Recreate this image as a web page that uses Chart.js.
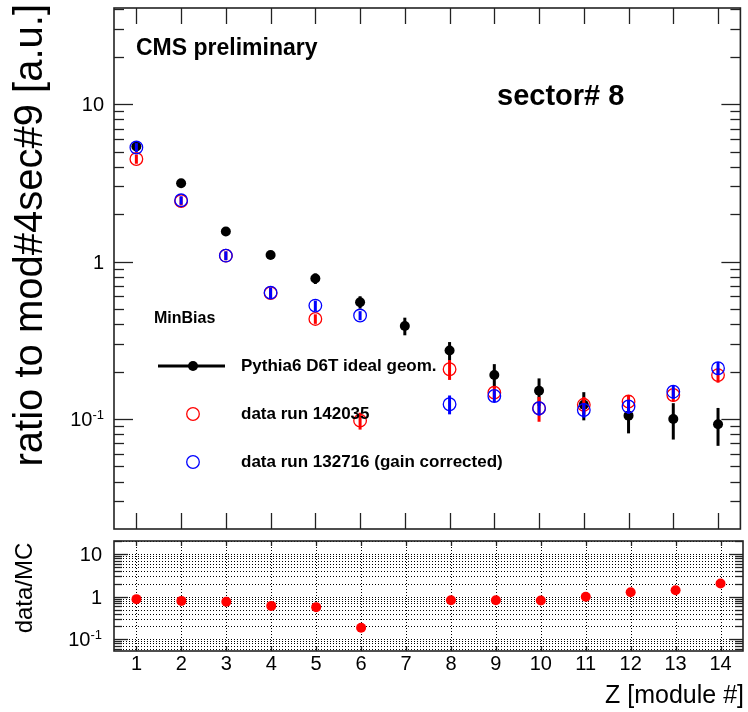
<!DOCTYPE html>
<html>
<head>
<meta charset="utf-8">
<title>sector# 8 — ratio to mod#4sec#9</title>
<script src="https://cdn.jsdelivr.net/npm/chart.js@4.4.1/dist/chart.umd.min.js"></script>
<style>
  html, body { margin: 0; padding: 0; background: #fff; }
  #wrap { position: relative; width: 748px; height: 712px; }
  #wrap canvas { position: absolute; left: 0; top: 0; }
</style>
</head>
<body>
<div id="wrap">
  <canvas id="ratioChart" width="748" height="712"></canvas>
  <canvas id="mainChart" width="748" height="712"></canvas>
</div>
<script>
/* ───── dados ───── */
const modules = [1, 2, 3, 4, 5, 6, 7, 8, 9, 10, 11, 12, 13, 14];
const xTickLabels = ['1', '2', '3', '4', '5', '6', '7', '8', '9', '10', '11', '12', '13', '14'];

const pythiaVals = [5.38, 3.14, 1.55, 1.10, 0.78, 0.552, 0.39, 0.272, 0.19, 0.151, 0.123, 0.105, 0.100, 0.0925];
const pythiaErr  = [0.25, 0.10, 0.06, 0.05, 0.06, 0.05, 0.05, 0.036, 0.033, 0.03, 0.025, 0.024, 0.026, 0.025];

const run142035Vals = [4.48, 2.42, 1.09, 0.63, 0.432, 0.0976, null, 0.207, 0.147, 0.117, 0.123, 0.129, 0.142, 0.19];
const run142035Err  = [0.30, 0.15, 0.07, 0.05, 0.03, 0.012, null, 0.03, 0.013, 0.021, 0.015, 0.011, 0.013, 0.02];

const run132716Vals = [5.30, 2.45, 1.09, 0.635, 0.525, 0.454, null, 0.124, 0.14, 0.117, 0.114, 0.12, 0.149, 0.21];
const run132716Err  = [0.35, 0.15, 0.07, 0.05, 0.04, 0.03, null, 0.017, 0.012, 0.012, 0.012, 0.012, 0.015, 0.02];

const ratioVals = [0.88, 0.80, 0.76, 0.61, 0.57, 0.187, null, 0.83, 0.83, 0.82, 1.0, 1.28, 1.43, 2.06];

const yTickValues = [0.1, 1, 10];
const yTickLabels = ['10^{-1}', '1', '10'];

const FONT = "'Liberation Sans', Arial, Helvetica, sans-serif";

/* ───── helpers ───── */
function toPoints(vals, errs) {
  const pts = [];
  modules.forEach((m, i) => {
    if (vals[i] == null) return;
    pts.push({ x: m, y: vals[i], e: errs ? errs[i] : 0 });
  });
  return pts;
}

// minor ticks of a log axis (2..9 x 10^n)
function logMinors(min, max) {
  const out = [];
  for (let d = Math.floor(Math.log10(min)); d <= Math.ceil(Math.log10(max)); d++) {
    for (let m = 2; m <= 9; m++) {
      const v = m * Math.pow(10, d);
      if (v > min && v < max) out.push(v);
    }
  }
  return out;
}

function line(ctx, x1, y1, x2, y2) {
  ctx.beginPath();
  ctx.moveTo(x1, y1);
  ctx.lineTo(x2, y2);
  ctx.stroke();
}

// label like 10^{-1}, right aligned, vertically centred on y
function drawPowLabel(ctx, text, xRight, y, size) {
  const m = text.match(/^(.*)\^\{(.*)\}$/);
  const base = m ? m[1] : text;
  const sup = m ? m[2] : '';
  const supSize = Math.round(size * 0.66);
  ctx.textAlign = 'left';
  ctx.textBaseline = 'alphabetic';
  ctx.font = size + 'px ' + FONT;
  const w1 = ctx.measureText(base).width;
  ctx.font = supSize + 'px ' + FONT;
  const w2 = sup ? ctx.measureText(sup).width : 0;
  const x0 = xRight - w1 - w2;
  const baseline = y + size * 0.36;
  ctx.font = size + 'px ' + FONT;
  ctx.fillText(base, x0, baseline);
  if (sup) {
    ctx.font = supSize + 'px ' + FONT;
    ctx.fillText(sup, x0 + w1, baseline - size * 0.38);
  }
}

/* ───── plugins ───── */
const errorBars = {
  id: 'errorBars',
  beforeDatasetDraw(chart, args) {
    const ds = chart.data.datasets[args.index];
    if (!ds.errorColor) return;
    const ctx = chart.ctx;
    const y = chart.scales.y;
    ctx.save();
    ctx.strokeStyle = ds.errorColor;
    ctx.lineWidth = ds.errorWidth || 2;
    args.meta.data.forEach((pt, i) => {
      const d = ds.data[i];
      if (!d.e) return;
      line(ctx, pt.x, y.getPixelForValue(d.y + d.e), pt.x, y.getPixelForValue(d.y - d.e));
    });
    ctx.restore();
  }
};

const rootFrame = {
  id: 'rootFrame',
  beforeDatasetsDraw(chart, args, o) {
    if (!o.grid) return;
    const { ctx, chartArea: a, scales: { x, y } } = chart;
    ctx.save();
    ctx.strokeStyle = '#000';
    ctx.lineWidth = 1;
    ctx.setLineDash([1, 2]);
    logMinors(y.min, y.max).concat(yTickValues).forEach(v => {
      const py = Math.round(y.getPixelForValue(v)) + 0.5;
      line(ctx, a.left, py, a.right, py);
    });
    modules.forEach(m => {
      const px = Math.round(x.getPixelForValue(m)) + 0.5;
      line(ctx, px, a.top, px, a.bottom);
    });
    ctx.restore();
  },
  afterDraw(chart, args, o) {
    const { ctx, chartArea: a, scales: { x, y } } = chart;
    ctx.save();
    ctx.strokeStyle = '#222';
    ctx.lineWidth = 1.3;
    // y ticks (inward, left and right)
    const minors = logMinors(y.min, y.max);
    minors.forEach(v => {
      const py = Math.round(y.getPixelForValue(v)) + 0.5;
      line(ctx, a.left, py, a.left + o.minorLen, py);
      line(ctx, a.right, py, a.right - o.minorLen, py);
    });
    yTickValues.forEach(v => {
      const py = Math.round(y.getPixelForValue(v)) + 0.5;
      line(ctx, a.left, py, a.left + o.majorLen, py);
      line(ctx, a.right, py, a.right - o.majorLen, py);
    });
    // x ticks (inward, top and bottom)
    modules.forEach(m => {
      const px = Math.round(x.getPixelForValue(m)) + 0.5;
      line(ctx, px, a.bottom, px, a.bottom - o.xTickLen);
      line(ctx, px, a.top, px, a.top + o.xTickLen);
    });
    ctx.lineWidth = 1.6;
    ctx.strokeRect(a.left, a.top, a.right - a.left, a.bottom - a.top);

    // y tick labels
    ctx.fillStyle = '#000';
    yTickValues.forEach((v, i) => {
      drawPowLabel(ctx, yTickLabels[i], o.labelRight, y.getPixelForValue(v), o.labelSize);
    });
    // x tick labels
    if (o.xLabels) {
      ctx.font = o.labelSize + 'px ' + FONT;
      ctx.textAlign = 'center';
      ctx.textBaseline = 'alphabetic';
      modules.forEach((m, i) => {
        ctx.fillText(xTickLabels[i], x.getPixelForValue(m), o.xLabelBaseline);
      });
    }
    ctx.restore();
  }
};

const mainTexts = {
  id: 'mainTexts',
  afterDraw(chart) {
    const ctx = chart.ctx;
    ctx.save();
    ctx.fillStyle = '#000';
    ctx.textAlign = 'left';
    ctx.textBaseline = 'alphabetic';
    ctx.font = 'bold 23px ' + FONT;
    ctx.fillText('CMS preliminary', 136, 55);
    ctx.font = 'bold 29px ' + FONT;
    ctx.fillText('sector# 8', 497, 105);

    // legend
    ctx.textBaseline = 'middle';
    ctx.font = 'bold 16px ' + FONT;
    ctx.fillText('MinBias', 154, 319);
    ctx.font = 'bold 17px ' + FONT;
    ctx.fillText('Pythia6 D6T ideal geom.', 241, 366);
    ctx.fillText('data run 142035', 241, 414);
    ctx.fillText('data run 132716 (gain corrected)', 241, 462);

    ctx.strokeStyle = '#000';
    ctx.lineWidth = 3;
    line(ctx, 158, 366, 225, 366);
    ctx.beginPath();
    ctx.arc(193, 366, 5, 0, Math.PI * 2);
    ctx.fill();
    ctx.lineWidth = 1.3;
    ctx.strokeStyle = '#ff0000';
    ctx.beginPath();
    ctx.arc(193, 414, 6.3, 0, Math.PI * 2);
    ctx.stroke();
    ctx.strokeStyle = '#0000ff';
    ctx.beginPath();
    ctx.arc(193, 462, 6.3, 0, Math.PI * 2);
    ctx.stroke();

    // y title
    ctx.translate(42, 4);
    ctx.rotate(-Math.PI / 2);
    ctx.textAlign = 'right';
    ctx.textBaseline = 'alphabetic';
    ctx.font = '40px ' + FONT;
    ctx.fillText('ratio to mod#4sec#9 [a.u.]', 0, 0);
    ctx.restore();
  }
};

const ratioTexts = {
  id: 'ratioTexts',
  afterDraw(chart) {
    const ctx = chart.ctx;
    ctx.save();
    ctx.fillStyle = '#000';
    ctx.font = '25px ' + FONT;
    ctx.textAlign = 'right';
    ctx.textBaseline = 'alphabetic';
    ctx.fillText('Z [module #]', 744, 703);
    ctx.translate(32, 588);
    ctx.rotate(-Math.PI / 2);
    ctx.textAlign = 'center';
    ctx.font = '24px ' + FONT;
    ctx.fillText('data/MC', 0, 0);
    ctx.restore();
  }
};

const baseOptions = (padding, yMin, yMax, frame) => ({
  responsive: false,
  animation: false,
  events: [],
  layout: { padding },
  scales: {
    x: { type: 'linear', min: 0.5, max: 14.5, display: false },
    y: { type: 'logarithmic', min: yMin, max: yMax, display: false }
  },
  plugins: {
    legend: { display: false },
    tooltip: { enabled: false },
    rootFrame: frame
  }
});

/* ───── painel superior ───── */
new Chart(document.getElementById('mainChart'), {
  type: 'scatter',
  data: {
    datasets: [
      {
        label: 'data run 132716 (gain corrected)',
        data: toPoints(run132716Vals, run132716Err),
        pointRadius: 6.3,
        pointBorderWidth: 1.3,
        pointBorderColor: '#0000ff',
        pointBackgroundColor: 'rgba(0,0,0,0)',
        errorColor: '#0000ff',
        errorWidth: 3
      },
      {
        label: 'data run 142035',
        data: toPoints(run142035Vals, run142035Err),
        pointRadius: 6.3,
        pointBorderWidth: 1.3,
        pointBorderColor: '#ff0000',
        pointBackgroundColor: 'rgba(0,0,0,0)',
        errorColor: '#ff0000',
        errorWidth: 3
      },
      {
        label: 'Pythia6 D6T ideal geom.',
        data: toPoints(pythiaVals, pythiaErr),
        pointRadius: 5,
        pointBorderWidth: 0,
        pointBackgroundColor: '#000',
        errorColor: '#000',
        errorWidth: 3
      }
    ]
  },
  options: baseOptions({ left: 114, right: 3, top: 8, bottom: 183 }, 0.02, 40.8,
    { majorLen: 19, minorLen: 10, xTickLen: 16, labelRight: 104, labelSize: 20, grid: false, xLabels: false }),
  plugins: [errorBars, rootFrame, mainTexts]
});

/* ───── painel de razão data/MC ───── */
new Chart(document.getElementById('ratioChart'), {
  type: 'scatter',
  data: {
    datasets: [
      {
        label: 'data/MC',
        data: toPoints(ratioVals),
        pointRadius: 5,
        pointBorderWidth: 0,
        pointBackgroundColor: '#ff0000'
      }
    ]
  },
  options: baseOptions({ left: 114, right: 3, top: 541, bottom: 61 }, 0.053, 20.5,
    { majorLen: 14, minorLen: 8, xTickLen: 5, labelRight: 102, labelSize: 20, grid: true, xLabels: true, xLabelBaseline: 670 }),
  plugins: [rootFrame, ratioTexts]
});
</script>
</body>
</html>
